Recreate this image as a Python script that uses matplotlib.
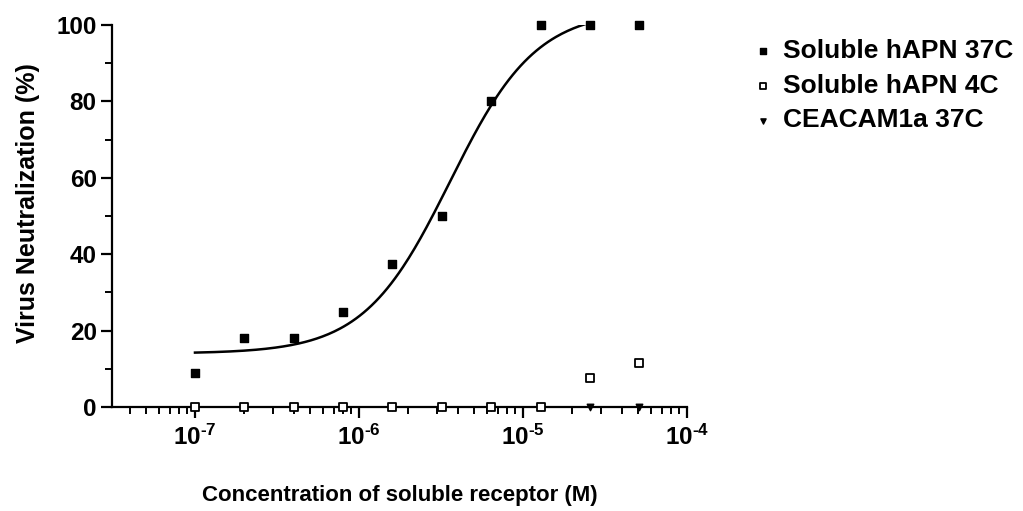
import matplotlib
matplotlib.use("Agg")
import matplotlib.pyplot as plt
import matplotlib.ticker as ticker
import numpy as np

plt.rcParams['font.family'] = ['Liberation Sans', 'DejaVu Sans']
plt.rcParams['font.weight'] = 'bold'
plt.rcParams['mathtext.fontset'] = 'custom'
plt.rcParams['mathtext.rm'] = 'Liberation Sans:bold'
plt.rcParams['mathtext.it'] = 'Liberation Sans:bold'
plt.rcParams['mathtext.bf'] = 'Liberation Sans:bold'
plt.rcParams['mathtext.default'] = 'rm'

# concentrations (M)
conc = [1e-7, 2e-7, 4e-7, 8e-7, 1.6e-6, 3.2e-6, 6.4e-6, 1.28e-5, 2.56e-5, 5.12e-5]
hapn_37 = [9, 18, 18, 25, 37.5, 50, 80, 100, 100, 100]
hapn_4 = [0, 0, 0, 0, 0, 0, 0, 0, 7.5, 11.5]
ceacam_37 = [0, 0, 0, 0, 0, 0, 0, 0, 0, 0]

x_ticks = [1e-7, 1e-6, 1e-5, 1e-4]
x_exps = ['-7', '-6', '-5', '-4']

# sigmoidal fit of the 37C hAPN curve (4PL)
fit_bottom = 14.0
fit_top = 104.0
fit_logec50 = -5.445
fit_hill = 1.65
fit_range = (1e-7, 2.4e-5)

fig = plt.figure(figsize=(10.23, 5.11), dpi=100)
ax = fig.add_axes([0.1095, 0.2035, 0.562, 0.7475])

xs = np.logspace(np.log10(fit_range[0]), np.log10(fit_range[1]), 200)
ys = fit_bottom + (fit_top - fit_bottom) / (1 + 10 ** ((fit_logec50 - np.log10(xs)) * fit_hill))
ax.plot(xs, ys, color='black', lw=1.8, zorder=2)

ax.scatter(conc, hapn_37, marker='s', s=34, color='black', label='Soluble hAPN 37C',
           clip_on=False, zorder=3)
ax.scatter(conc, ceacam_37, marker='v', s=22, color='black', label='CEACAM1a 37C',
           clip_on=False, zorder=3)
ax.scatter(conc, hapn_4, marker='s', s=26, facecolor='white', edgecolor='black',
           linewidth=1.3, label='Soluble hAPN 4C', clip_on=False, zorder=4)

ax.set_xscale('log')
ax.set_xlim(3.12e-8, 1e-4)
ax.set_ylim(0, 100)
ax.set_yticks([0, 20, 40, 60, 80, 100])
ax.yaxis.set_minor_locator(ticker.MultipleLocator(10))
ax.set_xticks(x_ticks)
ax.set_xticklabels([r'$10^{\text{%s}}$' % e for e in x_exps])
ax.xaxis.set_minor_locator(ticker.LogLocator(base=10, subs=np.arange(2, 10)))
ax.xaxis.set_minor_formatter(ticker.NullFormatter())

for s in ['top', 'right']:
    ax.spines[s].set_visible(False)
for s in ['left', 'bottom']:
    ax.spines[s].set_linewidth(1.6)

ax.tick_params(which='major', length=8, width=1.6, labelsize=17.5, pad=3)
ax.tick_params(which='minor', length=5, width=1.4)
ax.tick_params(axis='x', which='major', pad=5)

ax.set_ylabel('Virus Neutralization (%)', fontsize=18, fontweight='bold')
ax.yaxis.set_label_coords(-0.125, 0.534)
ax.set_xlabel('Concentration of soluble receptor (M)', fontsize=16, fontweight='bold',
              labelpad=25)

handles, labels = ax.get_legend_handles_labels()
order = [0, 2, 1]
fig.legend([handles[i] for i in order], [labels[i] for i in order],
           loc='upper left', bbox_to_anchor=(0.733, 0.923), frameon=False,
           fontsize=19, handlelength=1.0, handletextpad=0.26, labelspacing=0.4,
           borderpad=0, borderaxespad=0, markerscale=0.8)

fig.savefig('out.png', dpi=100)
